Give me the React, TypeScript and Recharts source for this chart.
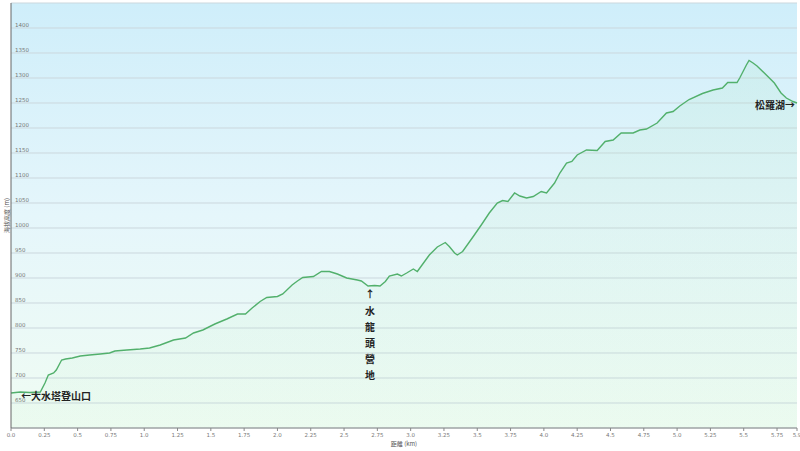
import React from 'react';
import { AreaChart, Area, XAxis, YAxis, CartesianGrid, ReferenceDot } from 'recharts';

// distance along the trail (km) and elevation (m)
const distanceKm = [
  0, 0.07, 0.14, 0.22, 0.255, 0.28, 0.32, 0.34, 0.38, 0.41, 0.46, 0.52, 0.59, 0.67, 0.74, 0.78, 0.87, 0.97,
  1.04, 1.12, 1.16, 1.22, 1.31, 1.37, 1.44, 1.53, 1.62, 1.7, 1.76, 1.81, 1.87, 1.92, 2.0, 2.04, 2.11, 2.15,
  2.19, 2.27, 2.33, 2.39, 2.45, 2.52, 2.6, 2.63, 2.68, 2.73, 2.77, 2.81, 2.84, 2.9, 2.93, 2.97, 3.02, 3.05,
  3.08, 3.14, 3.2, 3.26, 3.29, 3.33, 3.35, 3.39, 3.47, 3.53, 3.59, 3.65, 3.69, 3.73, 3.78, 3.82, 3.87, 3.92,
  3.98, 4.02, 4.08, 4.12, 4.17, 4.21, 4.25, 4.32, 4.4, 4.46, 4.52, 4.58, 4.67, 4.72, 4.77, 4.85, 4.92, 4.97,
  5.02, 5.09, 5.19, 5.27, 5.34, 5.38, 5.45, 5.47, 5.52, 5.54, 5.57, 5.6, 5.67, 5.73, 5.78, 5.82, 5.87, 5.9,
];
const elevationM = [
  670, 672, 671, 672, 690, 706, 710, 716, 736, 738, 740, 744, 746, 748, 750, 754, 756, 758,
  760, 766, 770, 776, 780, 790, 796, 808, 818, 828, 828, 840, 853, 861, 863, 868, 886, 894,
  901, 903, 913, 913, 908, 900, 896, 894, 884, 885, 884, 893, 904, 908, 904, 910, 918, 913,
  924, 946, 962, 971, 963, 950, 946, 953, 983, 1006, 1030, 1050, 1055, 1053, 1070, 1064, 1060, 1063,
  1073, 1070, 1090, 1110, 1130, 1133, 1146, 1156, 1155, 1173, 1176, 1190, 1190, 1196, 1198, 1210, 1230, 1233,
  1244, 1257, 1269, 1276, 1280, 1291, 1291, 1300, 1326, 1335, 1330, 1324, 1306, 1290, 1270, 1260, 1253, 1250,
];

const xTicks = [0, 0.25, 0.5, 0.75, 1, 1.25, 1.5, 1.75, 2, 2.25, 2.5, 2.75, 3, 3.25, 3.5, 3.75, 4, 4.25, 4.5, 4.75, 5, 5.25, 5.5, 5.75, 5.9];
const yTicks = [650, 700, 750, 800, 850, 900, 950, 1000, 1050, 1100, 1150, 1200, 1250, 1300, 1350, 1400];

const startLabel = '←大水塔登山口';
const campChars = ['水', '龍', '頭', '營', '地'];
const endLabel = '松羅湖→';

const data = distanceKm.map((d, i) => ({ d, h: elevationM[i] }));

const TICK_FONT = 'Verdana, "DejaVu Sans", sans-serif';
const CJK_FONT = '"Noto Sans CJK TC", "Noto Sans CJK SC", sans-serif';

const fmtKm = (v: number) => (Number.isInteger(v) ? v.toFixed(1) : String(v));

function YTick({ x, y, payload }: any) {
  return (
    <text x={x + 4} y={y - 1.5} fontSize={5.5} fill="#777" fontFamily={TICK_FONT} textAnchor="start">
      {payload.value}
    </text>
  );
}

function StartNote({ cx, cy }: any) {
  return (
    <text x={cx + 10} y={cy + 2} fontSize={10} fontWeight={700} fill="#222" fontFamily={CJK_FONT} dominantBaseline="central">
      {startLabel}
    </text>
  );
}

function CampNote({ cx, cy }: any) {
  return (
    <g fontSize={10} fontWeight={700} fill="#222" fontFamily={CJK_FONT} textAnchor="middle">
      <text x={cx + 2} y={cy + 7} dominantBaseline="central">↑</text>
      {campChars.map((c, i) => (
        <text key={c} x={cx + 2} y={cy + 24 + i * 16.2} dominantBaseline="central">
          {c}
        </text>
      ))}
    </g>
  );
}

function EndNote({ cx, cy }: any) {
  return (
    <text x={cx - 2} y={cy + 1} fontSize={10} fontWeight={700} fill="#222" fontFamily={CJK_FONT} textAnchor="end" dominantBaseline="central">
      {endLabel}
    </text>
  );
}

export default function App() {
  return (
    <div style={{ width: 800, height: 451, background: '#fff' }}>
      <style>{'body{margin:0}'}</style>
      <AreaChart width={800} height={451} data={data} margin={{ top: 3, right: 3, left: 0, bottom: 0 }}>
        <defs>
          <linearGradient id="bg" x1="0" y1="0" x2="0" y2="1">
            <stop offset="0%" stopColor="#cfeefa" />
            <stop offset="50%" stopColor="#e5f6fb" />
            <stop offset="100%" stopColor="#f0fcf3" />
          </linearGradient>
          <linearGradient id="fillG" x1="0" y1="0" x2="0" y2="1">
            <stop offset="0%" stopColor="#9ee0b0" stopOpacity={0.22} />
            <stop offset="100%" stopColor="#b5ecc2" stopOpacity={0.14} />
          </linearGradient>
        </defs>
        <CartesianGrid vertical={false} stroke="#cbd7dd" fill="url(#bg)" />
        <XAxis
          dataKey="d"
          type="number"
          domain={[0, 5.9]}
          ticks={xTicks}
          tickFormatter={fmtKm}
          interval={0}
          height={23}
          tickSize={3}
          tickMargin={2}
          stroke="#888"
          tick={{ fontSize: 5.5, fill: '#777', fontFamily: TICK_FONT }}
          label={(props: any) => {
            const vb = props.viewBox;
            return (
              <text x={vb.x + vb.width / 2} y={vb.y + vb.height - 5} fontSize={6} fill="#555" fontFamily={CJK_FONT} textAnchor="middle">
                距離 (km)
              </text>
            );
          }}
        />
        <YAxis
          type="number"
          domain={[600, 1450]}
          ticks={yTicks}
          width={11}
          tickSize={0}
          tickMargin={0}
          tickLine={false}
          stroke="#666"
          tick={<YTick />}
          label={(props: any) => {
            const vb = props.viewBox;
            const cx = vb.x + 6;
            const cy = vb.y + vb.height / 2;
            return (
              <text x={cx} y={cy} transform={`rotate(-90 ${cx} ${cy})`} fontSize={6} fill="#555" fontFamily={CJK_FONT} textAnchor="middle" dominantBaseline="central">
                海拔高度 (m)
              </text>
            );
          }}
        />
        <Area
          type="linear"
          dataKey="h"
          stroke="#52b06c"
          strokeWidth={1.4}
          fill="url(#fillG)"
          dot={false}
          activeDot={false}
          isAnimationActive={false}
        />
        <ReferenceDot x={distanceKm[0]} y={elevationM[0]} r={1} shape={(p: any) => <StartNote {...p} />} />
        <ReferenceDot x={distanceKm[44]} y={elevationM[44]} r={1} shape={(p: any) => <CampNote {...p} />} />
        <ReferenceDot
          x={distanceKm[distanceKm.length - 1]}
          y={elevationM[elevationM.length - 1]}
          r={1}
          shape={(p: any) => <EndNote {...p} />}
        />
      </AreaChart>
    </div>
  );
}
